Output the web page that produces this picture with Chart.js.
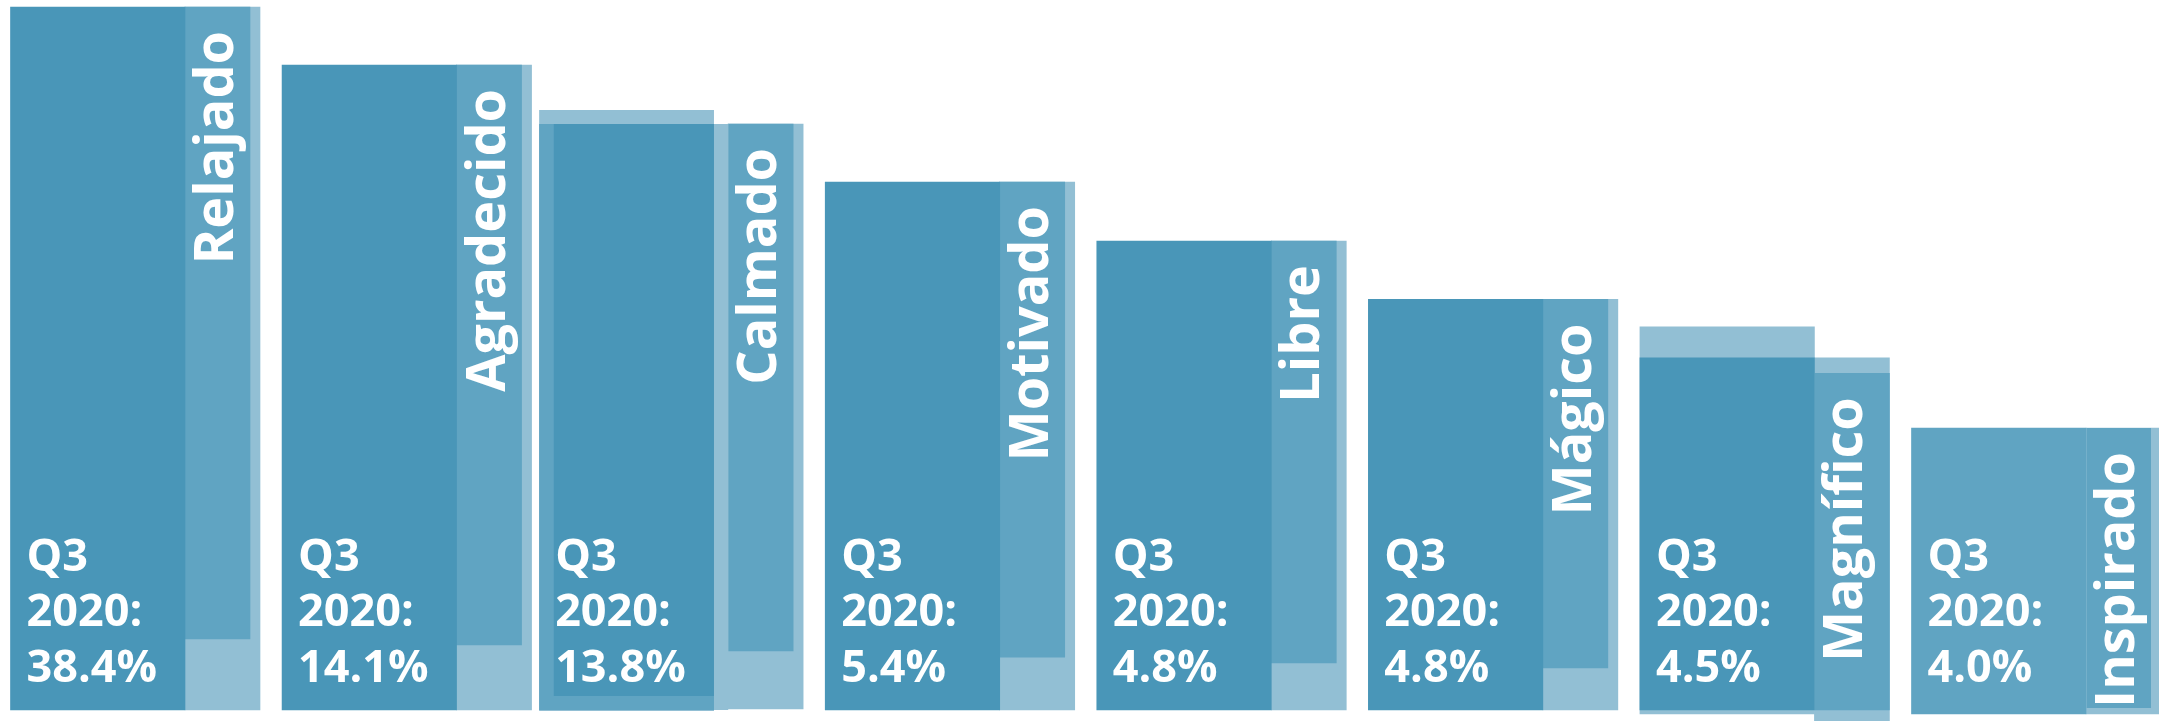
<!DOCTYPE html>
<html>
<head>
<meta charset="utf-8">
<script src="https://cdn.jsdelivr.net/npm/chart.js@4.4.1/dist/chart.umd.min.js"></script>
<style>
  html, body { margin: 0; padding: 0; background: #ffffff; }
  #wrap { width: 2159px; height: 721px; position: relative; }
</style>
</head>
<body>
<div id="wrap"><canvas id="c"></canvas></div>
<script>
// ---- data ----
const categories = ['Relajado', 'Agradecido', 'Calmado', 'Motivado', 'Libre', 'Mágico', 'Magnífico', 'Inspirado'];
const periodLines = ['Q3', '2020:'];
const q3Share = [38.4, 14.1, 13.8, 5.4, 4.8, 4.8, 4.5, 4.0];

// decorative block heights (0–100 visual scale)
const blockTop        = [100, 91.75, 83.36, 75.1, 66.7, 58.4, 50.1, 40.1];
const blockBottom     = [0, 0, 1.99, 0, 0, 0, 0, -0.57];
const underPanelTop   = [null, null, 83.36, null, null, null, null, null];
const underPanelBottom= [null, null, 0, null, null, null, null, null];
const backPanelTop    = [null, null, 85.35, null, null, null, 54.5, null];
const backPanelBottom = [null, null, -0.15, null, null, null, -0.57, null];
const stripMidTop     = [100, 91.75, 83.36, 75.1, 66.7, 58.4, 47.9, 40.1];
const stripMidBottom  = [10.1, 9.25, 8.4, 7.5, 6.7, 6.0, 0, 0.3];
const stripLightTop   = [100, 91.75, 83.36, 75.1, 66.7, 58.4, 50.1, 40.1];
const stripLightBottom= [0, 0, 0.14, 0, 0, 0, -1.6, -0.57];

// ---- styles ----
const DARK = '#4996B8', MID = '#60A4C2', LIGHT = '#92BFD4';
const mainColor  = [DARK, DARK, DARK, DARK, DARK, DARK, DARK, MID];
const groupShift = [0, 0, 14.5, 0, 0, 0, 0, 0];      // px the block is pulled left
const wideStrip  = [false, false, false, false, false, false, true, false];
const stripEdge  = [0, 0, 0, 0, 0, 0, 0, 1];
const MAIN_W = 174.5, STRIP_W = 75, STRIP_MID_W = 65;

const range = (tops, bottoms, keep) => tops.map((t, i) =>
  (t === null || !keep(i)) ? null : [bottoms[i], t]);

const datasets = [
  { label: 'main', stack: 'main', barThickness: MAIN_W,
    data: range(blockTop, blockBottom, () => true),
    backgroundColor: mainColor, borderColor: LIGHT,
    borderWidth: c => ({ top: 0, left: 0, bottom: 0, right: groupShift[c.dataIndex] }) },
  { label: 'under', stack: 'main', barThickness: MAIN_W + 14.5,
    data: range(underPanelTop, underPanelBottom, () => true),
    backgroundColor: MID, borderColor: LIGHT,
    borderWidth: c => ({ top: 0, left: 0, bottom: 0, right: groupShift[c.dataIndex] }) },
  { label: 'backShifted', stack: 'main', barThickness: MAIN_W + 14.5,
    data: range(backPanelTop, backPanelBottom, i => groupShift[i] > 0),
    backgroundColor: LIGHT, borderColor: 'rgba(0,0,0,0)',
    borderWidth: c => ({ top: 0, left: 0, bottom: 0, right: groupShift[c.dataIndex] }) },
  { label: 'back', stack: 'main', barThickness: MAIN_W,
    data: range(backPanelTop, backPanelBottom, i => groupShift[i] === 0),
    backgroundColor: LIGHT, borderWidth: 0 },
  { label: 'stripMid', stack: 'strip', barThickness: STRIP_MID_W,
    data: range(stripMidTop, stripMidBottom, i => !wideStrip[i]),
    backgroundColor: MID, borderColor: LIGHT,
    borderWidth: c => ({ top: 0, right: 0, bottom: 0, left: stripEdge[c.dataIndex] }) },
  { label: 'stripMidWide', stack: 'strip', barThickness: STRIP_W,
    data: range(stripMidTop, stripMidBottom, i => wideStrip[i]),
    backgroundColor: MID, borderWidth: 0 },
  { label: 'stripLight', stack: 'strip', barThickness: STRIP_W,
    data: range(stripLightTop, stripLightBottom, () => true),
    backgroundColor: LIGHT, borderWidth: 0 }
].map(d => Object.assign({ clip: false, borderSkipped: false, grouped: true }, d));

const labelPlugin = {
  id: 'labels',
  afterDatasetsDraw(chart) {
    const ctx = chart.ctx;
    const xs = chart.scales.x, ys = chart.scales.y;
    const y0 = ys.getPixelForValue(0);
    ctx.save();
    ctx.fillStyle = '#ffffff';
    categories.forEach((name, i) => {
      const c = xs.getPixelForValue(i);
      // left edge of the block = leftmost bar of the 'main' stack
      let left = Infinity;
      chart.data.datasets.forEach((ds, di) => {
        if (ds.stack !== 'main' || ds.data[i] === null) return;
        const el = chart.getDatasetMeta(di).data[i];
        if (el) left = Math.min(left, el.x - el.width / 2);
      });
      // Q3 2020 lines
      ctx.font = 'bold 45px "Open Sans"';
      ctx.textAlign = 'left';
      ctx.textBaseline = 'alphabetic';
      const tx = left + 16;
      ctx.fillText(periodLines[0], tx, y0 - 139);
      ctx.fillText(periodLines[1], tx, y0 - 84);
      ctx.fillText(q3Share[i].toFixed(1) + '%', tx, y0 - 28);
      // rotated category name
      const topY = ys.getPixelForValue(stripMidTop[i]) + 24;
      ctx.save();
      ctx.translate(c + 48, topY);
      ctx.rotate(-Math.PI / 2);
      ctx.font = 'bold 54px "Open Sans"';
      ctx.textAlign = 'right';
      ctx.fillText(name, 0, 0);
      ctx.restore();
    });
    ctx.restore();
  }
};

new Chart(document.getElementById('c'), {
  type: 'bar',
  data: { labels: categories, datasets },
  options: {
    responsive: true,
    maintainAspectRatio: false,
    animation: false,
    events: [],
    layout: { padding: { left: 185, right: 73, top: 7, bottom: 11 } },
    plugins: { legend: { display: false }, tooltip: { enabled: false } },
    scales: {
      x: { type: 'category', offset: false, display: false, grid: { display: false } },
      y: { min: 0, max: 100, display: false, stacked: false }
    }
  },
  plugins: [labelPlugin]
});
</script>
</body>
</html>
